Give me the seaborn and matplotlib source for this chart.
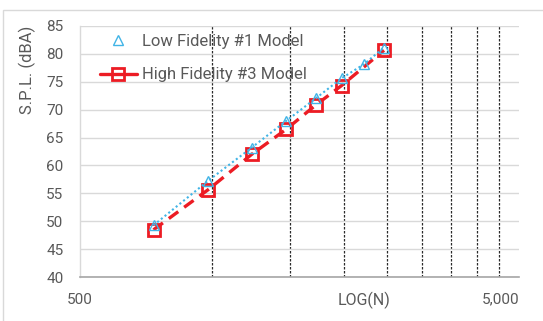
import matplotlib
matplotlib.use("Agg")
import matplotlib.pyplot as plt
from matplotlib.lines import Line2D
from matplotlib.patches import Rectangle
from matplotlib.ticker import FixedLocator, NullFormatter
import seaborn as sns
import pandas as pd

# Shaft speed N and sound pressure level readings
n_low = [735, 980, 1230, 1475, 1720, 1970, 2215, 2460]
spl_low = [49.3, 57.3, 63.2, 68.0, 72.0, 75.6, 78.1, 81.1]

n_high = [735, 980, 1230, 1475, 1720, 1970, 2460]
spl_high = [48.5, 55.7, 62.0, 66.5, 70.8, 74.3, 80.6]

label_low = "Low Fidelity #1 Model"
label_high = "High Fidelity #3 Model"

y_ticks = [40, 45, 50, 55, 60, 65, 70, 75, 80, 85]
x_major = [500, 5000]
x_major_labels = ["500", "5,000"]
x_minor = [1000, 1500, 2000, 2500, 3000, 3500, 4000, 4500, 5000]

BLUE = "#41B4E6"
RED = "#EC1C24"
GRAY_TXT = "#595959"

sns.set_theme(style="white")
plt.rcParams["font.family"] = ["Roboto", "DejaVu Sans"]

fig = plt.figure(figsize=(5.43, 3.21), dpi=100)
W, H = 543, 321
ax = fig.add_axes([80 / W, 1 - 277.3 / H, (519.3 - 80) / W, (277.3 - 25.7) / H])

df_low = pd.DataFrame({"N": n_low, "SPL": spl_low})
df_high = pd.DataFrame({"N": n_high, "SPL": spl_high})

sns.lineplot(data=df_low, x="N", y="SPL", ax=ax, color=BLUE, lw=1.5,
             linestyle=(0, (1, 1.3)), marker="^", markersize=7,
             markerfacecolor="none", markeredgecolor=BLUE, markeredgewidth=1.0,
             zorder=4)
sns.lineplot(data=df_high, x="N", y="SPL", ax=ax, color=RED, lw=2.4,
             linestyle=(0, (3.5, 2.2)), marker="s", markersize=9,
             markerfacecolor="none", markeredgecolor=RED, markeredgewidth=2.0,
             zorder=3)

ax.set_xscale("log")
ax.set_xlim(500, 5000)
ax.set_ylim(40, 85)
ax.set_yticks(y_ticks)
ax.xaxis.set_major_locator(FixedLocator(x_major))
ax.set_xticklabels(x_major_labels)
ax.xaxis.set_minor_locator(FixedLocator(x_minor))
ax.xaxis.set_minor_formatter(NullFormatter())

ax.tick_params(axis="both", which="both", length=0, labelsize=11,
               labelcolor=GRAY_TXT)
ax.tick_params(axis="x", pad=11)
ax.tick_params(axis="y", pad=12)
xt = ax.get_xticklabels()
xt[-1].set_horizontalalignment("right")

ax.grid(False)
ax.yaxis.grid(True, color="#d9d9d9", lw=1.0)
ax.xaxis.grid(True, which="minor", color="#2b2b2b", lw=0.9,
              linestyle=(0, (2, 1.2)))
ax.set_axisbelow(True)

for side in ("top", "right"):
    ax.spines[side].set_visible(False)
ax.spines["left"].set_color("#d9d9d9")
ax.spines["left"].set_linewidth(1.0)
ax.spines["bottom"].set_color("#a6a6a6")
ax.spines["bottom"].set_linewidth(1.2)

ax.set_xlabel("")
ax.set_ylabel("")
ax.text(0.647, -0.09, "LOG(N)", transform=ax.transAxes, ha="center",
        va="center", fontsize=11.5, color=GRAY_TXT)
fig.text(27 / W, 1 - 70 / H, "S.P.L. (dBA)", rotation=90, ha="center",
         va="center", fontsize=12, color=GRAY_TXT)

handles = [
    Line2D([], [], linestyle="none", marker="^", markersize=7,
           markerfacecolor="none", markeredgecolor=BLUE, markeredgewidth=1.0),
    Line2D([], [], color=RED, lw=2.4, marker="s", markersize=9,
           markerfacecolor="none", markeredgecolor=RED, markeredgewidth=2.0),
]
leg = fig.legend(handles, [label_low, label_high], loc="upper left",
                 bbox_to_anchor=(100 / W, 1 - 34 / H),
                 bbox_transform=fig.transFigure, frameon=False,
                 handlelength=2.2, handletextpad=0.35, labelspacing=1.1,
                 borderpad=0, borderaxespad=0,
                 prop={"family": ["Liberation Sans Narrow", "Roboto"],
                       "size": 12})
for t in leg.get_texts():
    t.set_color(GRAY_TXT)

fig.add_artist(Rectangle((3 / W, -0.01), 1.0, 1 - 10 / H + 0.01,
                         transform=fig.transFigure, fill=False,
                         edgecolor="#d9d9d9", lw=1.0))

fig.savefig("out.png", dpi=100)
